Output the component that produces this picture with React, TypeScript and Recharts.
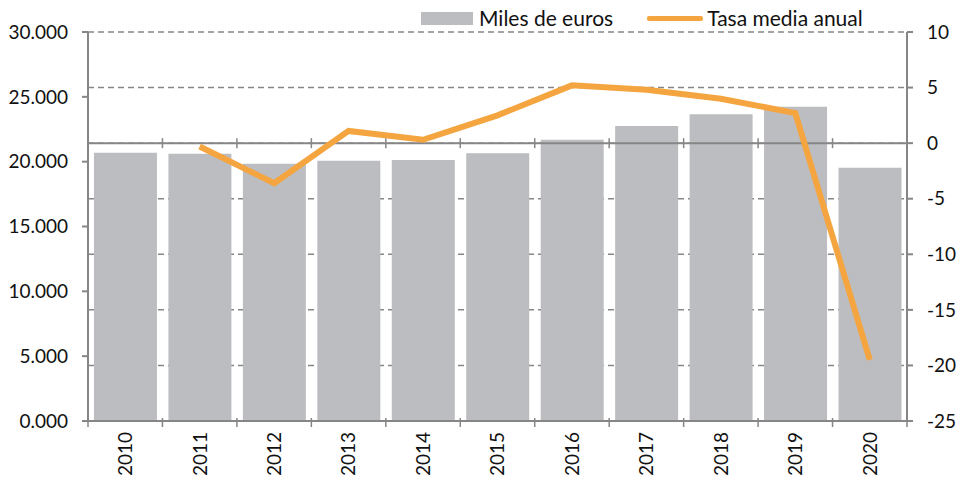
import React from 'react';
import { ComposedChart, Bar, Line, XAxis, YAxis, CartesianGrid, ReferenceLine } from 'recharts';

const years = ['2010', '2011', '2012', '2013', '2014', '2015', '2016', '2017', '2018', '2019', '2020'];
const milesDeEuros = [20690, 20620, 19840, 20080, 20130, 20650, 21690, 22750, 23650, 24240, 19540];
const tasaMediaAnual: (number | null)[] = [null, -0.3, -3.6, 1.1, 0.3, 2.5, 5.2, 4.8, 4.0, 2.7, -19.5];
const leftTicks = [0, 5000, 10000, 15000, 20000, 25000, 30000];
const rightTicks = [-25, -20, -15, -10, -5, 0, 5, 10];

const W = 957;
const H = 480;
const LEFT_W = 88;
const RIGHT_W = 50;
const TOP = 32;
const XAXIS_H = 59;
const PLOT_W = W - LEFT_W - RIGHT_W;
const BAND = PLOT_W / years.length;
const AXIS_Y = H - XAXIS_H;

const AXIS_COLOR = '#868686';
const BAR_COLOR = '#BCBDC0';
const LINE_COLOR = '#F4A540';
const FONT = 'Lato, "Open Sans", sans-serif';

const data = years.map((y, i) => ({ year: y, miles: milesDeEuros[i], tasa: tasaMediaAnual[i] }));

const XTick = (props: any) => {
  const { x, payload, index } = props;
  const left = x - BAND / 2;
  const right = x + BAND / 2;
  return (
    <g>
      <line x1={left} x2={left} y1={AXIS_Y - 3} y2={AXIS_Y + 6} stroke={AXIS_COLOR} strokeWidth={1.5} />
      {index === years.length - 1 && (
        <line x1={right} x2={right} y1={AXIS_Y - 3} y2={AXIS_Y + 6} stroke={AXIS_COLOR} strokeWidth={1.5} />
      )}
      <text
        x={0}
        y={0}
        transform={`translate(${x},${AXIS_Y + 11}) rotate(-90)`}
        textAnchor="end"
        dy="0.36em"
        fontSize={19}
        fontFamily={FONT}
        fill="#111"
      >
        {payload.value}
      </text>
    </g>
  );
};

const ZeroLine = (props: any) => {
  const { x1, x2, y1 } = props;
  const marks = [];
  for (let i = 1; i < years.length; i++) {
    const mx = x1 + i * ((x2 - x1) / years.length);
    marks.push(<line key={i} x1={mx} x2={mx} y1={y1 - 5} y2={y1 + 5} stroke={AXIS_COLOR} strokeWidth={1.5} />);
  }
  return (
    <g>
      <line x1={x1} x2={x2} y1={y1} y2={y1} stroke={AXIS_COLOR} strokeWidth={2} />
      {marks}
    </g>
  );
};

export default function App() {
  return (
    <div style={{ position: 'absolute', left: 0, top: 0, width: W, height: H, background: '#fff' }}>
      <ComposedChart
        width={W}
        height={H}
        data={data}
        margin={{ top: TOP, right: 0, bottom: 0, left: 0 }}
        barCategoryGap="8%"
      >
        <CartesianGrid
          yAxisId="right"
          vertical={false}
          stroke={AXIS_COLOR}
          strokeWidth={1.5}
          strokeDasharray="6 4"
        />
        <XAxis
          dataKey="year"
          height={XAXIS_H}
          interval={0}
          tickLine={false}
          stroke={AXIS_COLOR}
          strokeWidth={2}
          tick={<XTick />}
        />
        <YAxis
          yAxisId="left"
          orientation="left"
          width={LEFT_W}
          domain={[0, 30000]}
          ticks={leftTicks}
          tickFormatter={(v: number) => (v / 1000).toFixed(3)}
          stroke={AXIS_COLOR}
          strokeWidth={2}
          tickSize={6}
          tickMargin={14}
          tick={{ fill: '#111', fontSize: 19, fontFamily: FONT }}
        />
        <YAxis
          yAxisId="right"
          orientation="right"
          width={RIGHT_W}
          domain={[-25, 10]}
          ticks={rightTicks}
          stroke={AXIS_COLOR}
          strokeWidth={2}
          tickSize={6}
          tickMargin={14}
          tick={{ fill: '#111', fontSize: 19, fontFamily: FONT, textAnchor: 'start' }}
        />
        <Bar yAxisId="left" dataKey="miles" fill={BAR_COLOR} isAnimationActive={false} />
        <ReferenceLine yAxisId="right" y={0} shape={<ZeroLine />} />
        <Line
          yAxisId="right"
          dataKey="tasa"
          stroke={LINE_COLOR}
          strokeWidth={6}
          dot={false}
          activeDot={false}
          isAnimationActive={false}
        />
      </ComposedChart>
      <div
        style={{
          position: 'absolute',
          left: 421,
          top: 4,
          display: 'flex',
          alignItems: 'center',
          fontFamily: FONT,
          fontSize: 21,
          color: '#111',
          whiteSpace: 'nowrap',
          lineHeight: '28px',
        }}
      >
        <span style={{ display: 'inline-block', width: 52, height: 13, background: BAR_COLOR, marginRight: 6 }} />
        <span>Miles de euros</span>
        <span style={{ display: 'inline-block', width: 56, height: 5, background: LINE_COLOR, marginLeft: 34, marginRight: 4, borderRadius: 2 }} />
        <span>Tasa media anual</span>
      </div>
    </div>
  );
}
